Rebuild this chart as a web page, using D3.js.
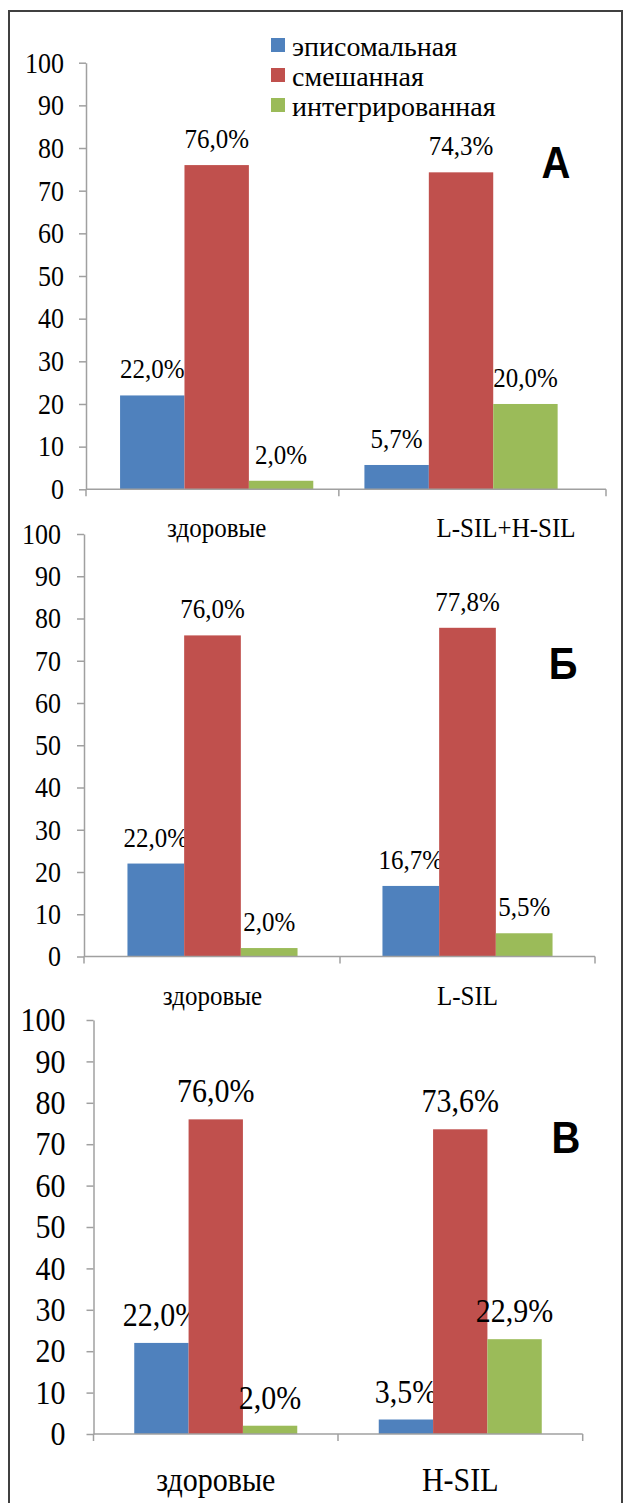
<!DOCTYPE html>
<html><head><meta charset="utf-8">
<script src="https://cdn.jsdelivr.net/npm/d3@7"></script>
<style>
html,body{margin:0;padding:0;background:#fff;}
svg{display:block;}
</style></head>
<body>
<svg id="chart" width="626" height="1503"></svg>
<script>
// ---- data ----
const series = ["эписомальная", "смешанная", "интегрированная"];
const categoriesA = ["здоровые", "L-SIL+H-SIL"];
const categoriesB = ["здоровые", "L-SIL"];
const categoriesC = ["здоровые", "H-SIL"];
const valuesA = [[22.0, 76.0, 2.0], [5.7, 74.3, 20.0]];
const valuesB = [[22.0, 76.0, 2.0], [16.7, 77.8, 5.5]];
const valuesC = [[22.0, 76.0, 2.0], [3.5, 73.6, 22.9]];
const yTicks = [0, 10, 20, 30, 40, 50, 60, 70, 80, 90, 100];
const panelLetters = ["А", "Б", "В"];
const colors = ["#4f81bd", "#c0504d", "#9bbb59"];

// ---- layout ----
const SERIF = "'Liberation Serif', 'Times New Roman', 'DejaVu Serif', serif";
const SY = 1.12; // vertical stretch of the source picture's text
const panels = [
  {cats: categoriesA, vals: valuesA, letter: panelLetters[0],
   y0: 489.3, y100: 62.7, axisX: 86, axisEnd: 606, band: [94.5, 583.2], outer: 0.397,
   font: 25, tickFont: 26, tickPad: 15, catBase: 537, catShift: [0, 45], letterX: 556, letterY: 178},
  {cats: categoriesB, vals: valuesB, letter: panelLetters[1],
   y0: 956.5, y100: 534, axisX: 84, axisEnd: 595, band: [85, 595], outer: 0.749,
   font: 25, tickFont: 26, tickPad: 16, catBase: 1005, catShift: [0, 0], letterX: 563, letterY: 679},
  {cats: categoriesC, vals: valuesC, letter: panelLetters[2],
   y0: 1434, y100: 1020, axisX: 93.5, axisEnd: 582.7, band: [93.5, 582.5], outer: 0.75,
   font: 30, tickFont: 30, tickPad: 21, catBase: 1491, catShift: [0, 0], letterX: 566, letterY: 1153}
];

const svg = d3.select("#chart");
const fmt = v => v.toFixed(1).replace(".", ",") + "%";
function placeText(parent, x, y, str, size, family, anchor, sy) {
  return parent.append("text")
    .attr("transform", `translate(${x},${y}) scale(1,${sy || SY})`)
    .attr("text-anchor", anchor || "start")
    .style("font-family", family || SERIF)
    .style("font-size", size + "px")
    .attr("fill", "#000")
    .text(str);
}

// outer frame (left, top, right)
svg.append("path")
  .attr("d", "M9,1503 L9,11 L622,11 L622,1503")
  .attr("fill", "none").attr("stroke", "#404040").attr("stroke-width", 2);

panels.forEach(p => {
  const y = d3.scaleLinear().domain([0, 100]).range([p.y0, p.y100]);
  const x0 = d3.scaleBand().domain(p.cats).range(p.band).paddingInner(0).paddingOuter(0);
  const x1 = d3.scaleBand().domain(series).range([0, x0.bandwidth()]).paddingInner(0).paddingOuter(p.outer);
  const g = svg.append("g");

  // y axis
  const ya = g.append("g").attr("transform", `translate(${p.axisX},0)`)
    .call(d3.axisLeft(y).tickValues(yTicks).tickSize(7).tickSizeOuter(0).tickPadding(p.tickPad));
  ya.attr("font-family", null);
  ya.select(".domain").attr("stroke", "#a0a0a0").attr("stroke-width", 1.5);
  ya.selectAll(".tick line").attr("stroke", "#a0a0a0").attr("stroke-width", 1.5);
  ya.selectAll(".tick text")
    .style("font-family", SERIF).style("font-size", p.tickFont + "px").attr("fill", "#000")
    .attr("transform", `scale(1,${SY})`);

  // bars
  p.cats.forEach((c, ci) => {
    series.forEach((s, si) => {
      const v = p.vals[ci][si];
      g.append("rect")
        .attr("x", x0(c) + x1(s)).attr("width", x1.bandwidth())
        .attr("y", y(v)).attr("height", y(0) - y(v))
        .attr("fill", colors[si]);
      placeText(g, x0(c) + x1(s) + x1.bandwidth() / 2, y(v) - 17, fmt(v), p.font, SERIF, "middle");
    });
  });

  // x axis
  const xl = g.append("g").attr("stroke", "#a0a0a0").attr("stroke-width", 1.5);
  xl.append("line").attr("x1", p.axisX).attr("x2", p.axisEnd).attr("y1", y(0)).attr("y2", y(0));
  const tickXs = [p.axisX, x0(p.cats[1]), p.axisEnd];
  tickXs.forEach(tx => xl.append("line").attr("x1", tx).attr("x2", tx).attr("y1", y(0)).attr("y2", y(0) + 7));

  // category labels
  p.cats.forEach((c, ci) => {
    placeText(g, x0(c) + x0.bandwidth() / 2 + p.catShift[ci], p.catBase, c, p.font, SERIF, "middle");
  });

  // panel letter
  placeText(g, p.letterX, p.letterY, p.letter, 40, "'Liberation Sans', Arial, sans-serif", "middle")
    .style("font-weight", "bold");
});

// legend (top panel)
const leg = svg.append("g");
series.forEach((s, i) => {
  leg.append("rect").attr("x", 271).attr("y", 38 + i * 30).attr("width", 14).attr("height", 14).attr("fill", colors[i]);
  placeText(leg, 292, 56 + i * 30, s, 28, SERIF, "start", 1);
});
</script>
</body></html>
